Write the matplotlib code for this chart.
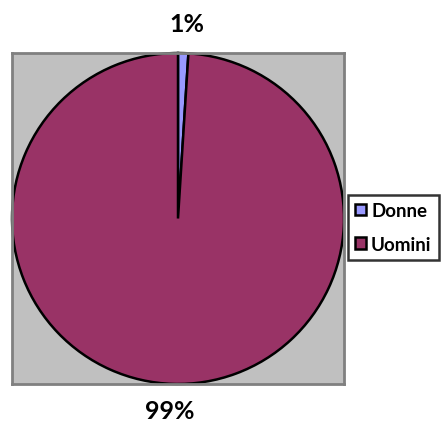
import matplotlib
matplotlib.use("Agg")
import matplotlib.pyplot as plt
from matplotlib.patches import Patch

categories = ["Donne", "Uomini"]
values = [1, 99]
labels = ["1%", "99%"]
colors = ["#9999ff", "#993366"]

plt.rcParams["font.family"] = ["Lato", "DejaVu Sans"]

W, H = 445, 435
fig = plt.figure(figsize=(W / 100, H / 100), dpi=100)
fig.patch.set_facecolor("white")

# plot area (pixel box converted to figure fractions)
left, top, right, bottom = 12, 54, 344, 385
ax = fig.add_axes([left / W, 1 - bottom / H, (right - left) / W, (bottom - top) / H])
ax.set_facecolor("#c0c0c0")
for s in ax.spines.values():
    s.set_color("#808080")
    s.set_linewidth(2)

wedges, _ = ax.pie(values, colors=colors, startangle=90, counterclock=False,
                   radius=1.0,
                   wedgeprops=dict(edgecolor="black", linewidth=1.8))
ax.set_xlim(-1.0, 1.0)
ax.set_ylim(-1.0, 1.0)
ax.set_aspect("auto")
ax.set_xticks([])
ax.set_yticks([])
ax.set_frame_on(True)

# percentage labels outside the plot area
fig.text(187 / W, 1 - 25 / H, labels[0], ha="center", va="center",
         fontsize=18, fontweight="bold")
fig.text(170 / W, 1 - 412 / H, labels[1], ha="center", va="center",
         fontsize=18, fontweight="bold")

handles = [Patch(facecolor=c, edgecolor="black", linewidth=1.8) for c in colors]
leg = fig.legend(handles, categories, loc="upper left",
                 bbox_to_anchor=(348 / W, 1 - 196 / H),
                 frameon=True, fancybox=False,
                 prop=dict(weight="bold", size=13.5),
                 handlelength=0.6, handleheight=0.6, handletextpad=0.25,
                 borderpad=0.38, labelspacing=0.9, borderaxespad=0)
leg.get_frame().set_edgecolor("black")
leg.get_frame().set_linewidth(1.8)

fig.savefig("out.png", dpi=100)
